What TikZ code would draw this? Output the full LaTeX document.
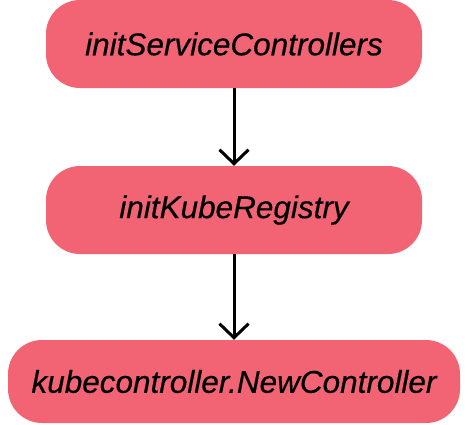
\documentclass[tikz,border=0pt]{standalone}
\usepackage{fontspec}
\setmainfont{Liberation Sans}
\newfontfamily\boxfont[FakeBold=0.4]{Liberation Sans}
\usetikzlibrary{arrows.meta}
\definecolor{boxred}{HTML}{F26474}
\tikzset{
  flowbox/.style={fill=boxred, draw=none, rounded corners=34pt, inner sep=0pt,
    font=\boxfont\fontsize{31.5}{36}\selectfont\itshape, text=black},
  flowarrow/.style={line width=3pt, -{Straight Barb[length=14pt,width=29pt,line width=3pt]}}
}
\begin{document}
\begin{tikzpicture}[x=1pt,y=-1pt]
\useasboundingbox (0,0) rectangle (470,424);
\node[flowbox, minimum width=376pt, minimum height=88pt] (a) at (234,44) {initServiceControllers};
\node[flowbox, minimum width=376pt, minimum height=88pt] (b) at (234,210) {initKubeRegistry};
\node[flowbox, minimum width=452pt, minimum height=83pt] (c) at (234,381.5) {kubecontroller.NewController};
\draw[flowarrow] (a.south) -- (b.north);
\draw[flowarrow] (b.south) -- (c.north);
\end{tikzpicture}
\end{document}
